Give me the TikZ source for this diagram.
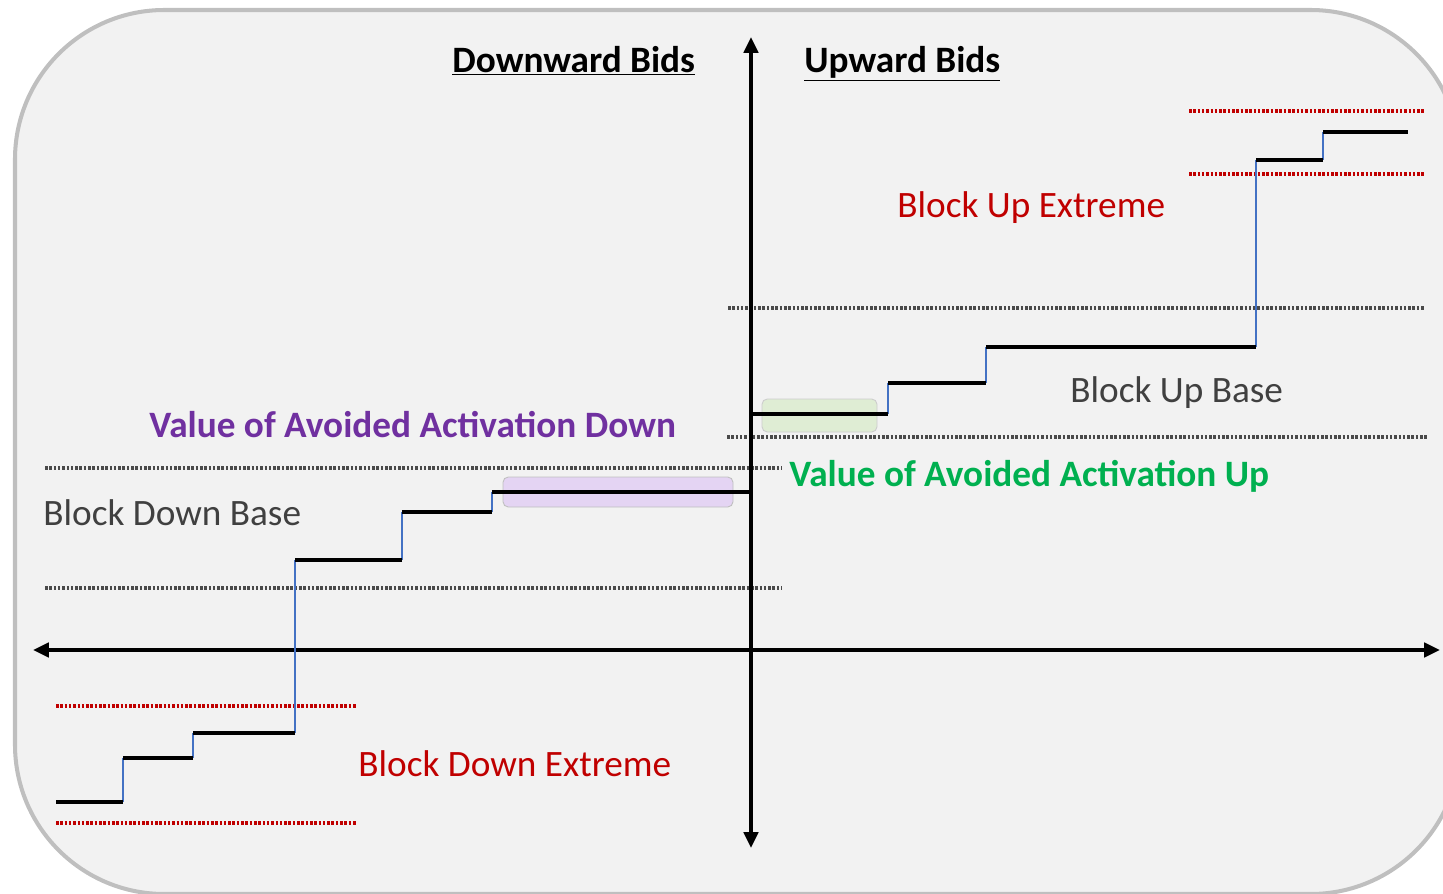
\documentclass[tikz,border=0pt]{standalone}
\usepackage{fontspec}
\setmainfont{Carlito}
\usetikzlibrary{arrows.meta}
\definecolor{panelfill}{HTML}{F2F2F2}
\definecolor{panelline}{HTML}{BFBFBF}
\definecolor{guidegray}{HTML}{4A4A4A}
\definecolor{extremered}{HTML}{C00000}
\definecolor{stepblue}{HTML}{4472C4}
\definecolor{avoidpurple}{HTML}{7030A0}
\definecolor{avoidgreen}{HTML}{00B050}
\definecolor{purplefill}{HTML}{E4D4F3}
\definecolor{greenfill}{HTML}{DFEDD4}
\definecolor{basegray}{HTML}{404040}
\begin{document}
\begin{tikzpicture}[x=0.02cm,y=-0.02cm,
  axis/.style={line width=2.3pt,-{Triangle[length=9pt,width=8pt]}},
  guide/.style={guidegray,line width=1.9pt,dash pattern=on 1.45pt off 1.0pt},
  redguide/.style={extremered,line width=1.9pt,dash pattern=on 1.45pt off 1.0pt},
  stair/.style={line width=2.2pt,black},
  riser/.style={line width=0.6pt,stepblue},
  lbl/.style={font=\fontsize{21.2}{25}\selectfont,inner sep=0pt,anchor=base west},
  head/.style={lbl,font=\fontsize{21.2}{25}\selectfont\bfseries},
  hilite/.style={rounded corners=3pt,line width=0.5pt}]
\useasboundingbox (0,0) rectangle (1443,893);
\begin{scope}
  \clip (0,0) rectangle (1443,893);
  \draw[panelline,fill=panelfill,line width=2.3pt,rounded corners=85pt] (15,10) rectangle (1460,894);
\end{scope}

% highlight boxes behind the first steps
\draw[hilite,draw=black!25,fill=purplefill] (503,477) rectangle (733,507);
\draw[hilite,draw=black!20,fill=greenfill] (762,399) rectangle (877,432);

% horizontal guides
\draw[guide] (728,308) -- (1425,308);
\draw[guide] (727,437) -- (1427,437);
\draw[guide] (45,468) -- (782,468);
\draw[guide] (45,588) -- (782,588);
\draw[redguide] (1189,111) -- (1425,111);
\draw[redguide] (1189,174) -- (1425,174);
\draw[redguide] (56,706) -- (356,706);
\draw[redguide] (56,823) -- (356,823);

% axes
\coordinate (ytop) at (751,37);
\coordinate (ybot) at (751,848);
\coordinate (xleft) at (33,650);
\coordinate (xright) at (1440,650);
\coordinate (origin) at (751,650);
\draw[axis] (origin) -- (ytop);
\draw[axis] (origin) -- (ybot);
\draw[axis] (origin) -- (xleft);
\draw[axis] (origin) -- (xright);

% upward bid staircase
\draw[riser] (888,414) -- (888,383);
\draw[riser] (986,383) -- (986,347);
\draw[riser] (1256,347) -- (1256,160);
\draw[riser] (1323,160) -- (1323,132);
\draw[stair] (751,414) -- (888,414);
\draw[stair] (888,383) -- (986,383);
\draw[stair] (986,347) -- (1256,347);
\draw[stair] (1256,160) -- (1323,160);
\draw[stair] (1323,132) -- (1408,132);

% downward bid staircase
\draw[riser] (492,492) -- (492,512);
\draw[riser] (402,512) -- (402,560);
\draw[riser] (295,560) -- (295,733);
\draw[riser] (193,733) -- (193,758);
\draw[riser] (123,758) -- (123,802);
\draw[stair] (751,492) -- (492,492);
\draw[stair] (492,512) -- (402,512);
\draw[stair] (402,560) -- (295,560);
\draw[stair] (295,733) -- (193,733);
\draw[stair] (193,758) -- (123,758);
\draw[stair] (123,802) -- (56,802);

% labels
\node[head] (hdown) at (452,72) {\underline{Downward Bids}};
\node[head] (hup) at (804,72) {\underline{Upward Bids}};
\node[head,text=avoidpurple] (vaad) at (149,437) {Value of Avoided Activation Down};
\node[head,text=avoidgreen] (vaau) at (789,486) {Value of Avoided Activation Up};
\node[lbl,text=basegray] (bdb) at (43,525) {Block Down Base};
\node[lbl,text=basegray] (bub) at (1070,402) {Block Up Base};
\node[lbl,text=extremered] (bue) at (897,217) {Block Up Extreme};
\node[lbl,text=extremered] (bde) at (358,776) {Block Down Extreme};
\end{tikzpicture}
\end{document}
